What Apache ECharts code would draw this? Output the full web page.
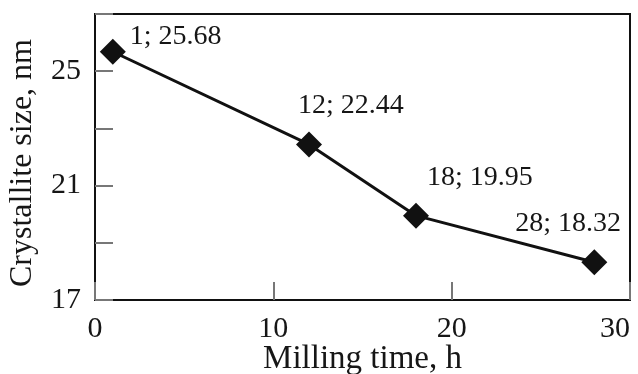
<!DOCTYPE html>
<html>
<head>
<meta charset="utf-8">
<script src="https://cdn.jsdelivr.net/npm/echarts@6/dist/echarts.min.js"></script>
<style>
html,body{margin:0;padding:0;background:#fff;}
#c{width:638px;height:374px;}
</style>
</head>
<body>
<div id="c"></div>
<script>
// Data
var millingTime = [1, 12, 18, 28];
var crystalliteSize = [25.68, 22.44, 19.95, 18.32];
var pointLabels = ['1; 25.68', '12; 22.44', '18; 19.95', '28; 18.32'];
var yLabelValues = [17, 21, 25];
var xTitle = 'Milling time, h';
var yTitle = 'Crystallite size, nm';

// label placement (relative to symbol box top-left)
var labelPos = [[30, -2], [2, -26], [24, -25], [-66, -26]];

var font = '"Liberation Serif", "DejaVu Serif", serif';
var textColor = '#161616';

var seriesData = millingTime.map(function (x, i) {
  return {
    value: [x, crystalliteSize[i]],
    label: {
      show: true,
      formatter: pointLabels[i],
      position: labelPos[i],
      align: 'left',
      verticalAlign: 'middle',
      fontFamily: font,
      fontSize: 28,
      color: textColor
    }
  };
});

var chart = echarts.init(document.getElementById('c'), null, {renderer: 'canvas'});
chart.setOption({
  animation: false,
  backgroundColor: '#fff',
  grid: {left: 95, right: 8, top: 14, bottom: 74, outerBoundsMode: 'none', containLabel: false, show: true, borderColor: '#111', borderWidth: 2, backgroundColor: 'transparent'},
  xAxis: {
    type: 'value',
    min: 0, max: 30, interval: 10,
    name: xTitle,
    nameLocation: 'middle',
    nameGap: 43,
    nameMoveOverlap: false,
    nameTextStyle: {fontFamily: font, fontSize: 33, color: textColor},
    axisLine: {show: true, lineStyle: {color: '#111', width: 2}},
    axisTick: {show: true, inside: true, length: 18, lineStyle: {color: '#777', width: 2}},
    axisLabel: {fontFamily: font, fontSize: 30, color: textColor, margin: 14, alignMaxLabel: 'right'},
    splitLine: {show: false}
  },
  yAxis: {
    type: 'value',
    min: 17, max: 27, interval: 2,
    name: yTitle,
    nameLocation: 'middle',
    nameGap: 56,
    nameMoveOverlap: false,
    nameTextStyle: {fontFamily: font, fontSize: 32, color: textColor, padding: [0, 0, 0, -12]},
    axisLine: {show: true, lineStyle: {color: '#111', width: 2}},
    axisTick: {show: true, inside: true, length: 18, lineStyle: {color: '#777', width: 2}},
    axisLabel: {
      fontFamily: font, fontSize: 30, color: textColor, margin: 14,
      formatter: function (v) { return yLabelValues.indexOf(v) >= 0 ? String(v) : ''; }
    },
    splitLine: {show: false}
  },
  series: [{
    type: 'line',
    data: seriesData,
    symbol: 'diamond',
    symbolSize: 26,
    lineStyle: {color: '#111', width: 3},
    itemStyle: {color: '#111'},
    z: 5
  }]
});
</script>
</body>
</html>
